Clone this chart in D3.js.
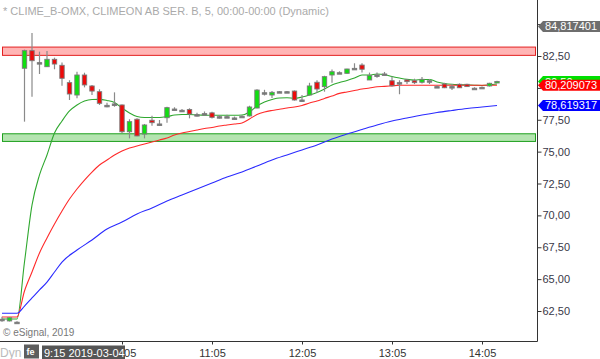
<!DOCTYPE html>
<html>
<head>
<meta charset="utf-8">
<script src="https://cdn.jsdelivr.net/npm/d3@7"></script>
<style>
  body { margin: 0; background: #fff; }
  svg { display: block; font-family: Arial, "Liberation Sans", sans-serif; }
</style>
</head>
<body>
<svg width="600" height="359"></svg>
<script>
// candle times (5 min), last 3 from previous session
var times = ["17:15","17:20","17:25",
  "09:00","09:05","09:10","09:15","09:20","09:25","09:30","09:35","09:40","09:45","09:50","09:55",
  "10:00","10:05","10:10","10:15","10:20","10:25","10:30","10:35","10:40","10:45","10:50","10:55",
  "11:00","11:05","11:10","11:15","11:20","11:25","11:30","11:35","11:40","11:45","11:50","11:55",
  "12:00","12:05","12:10","12:15","12:20","12:25","12:30","12:35","12:40","12:45","12:50","12:55",
  "13:00","13:05","13:10","13:15","13:20","13:25","13:30","13:35","13:40","13:45","13:50","13:55",
  "14:00","14:05","14:10","14:15"];

var open = [61.85,61.72,61.62,
  81.54,82.92,81.98,81.66,82.24,81.77,80.41,79.44,81.01,80.15,79.70,78.63,
  78.74,78.66,76.56,77.54,76.38,77.46,77.17,77.66,78.34,78.24,78.30,77.90,
  77.98,78.04,77.74,77.74,77.64,77.77,77.80,78.42,79.62,79.44,79.70,79.70,
  79.75,79.05,79.44,80.44,80.10,81.01,81.19,81.14,81.53,81.79,80.62,81.01,
  81.09,80.56,80.41,80.62,80.56,80.44,80.56,80.10,80.30,80.10,80.28,80.28,
  79.97,80.04,80.15,80.44];
var high = [62.05,62.00,61.70,
  83.00,84.30,82.84,82.90,82.37,82.00,80.60,81.27,81.19,80.23,79.89,78.84,
  79.65,78.70,77.54,77.61,77.17,77.82,77.48,78.52,78.48,78.34,78.40,78.05,
  78.15,78.13,77.87,77.90,77.75,77.85,78.60,79.90,79.85,79.75,79.75,79.75,
  79.80,79.45,80.40,80.60,80.95,81.45,81.30,81.50,81.93,81.93,81.20,81.20,
  81.25,80.90,80.60,80.70,80.72,80.85,80.70,80.20,80.40,80.30,80.35,80.33,
  80.05,80.10,80.40,80.55];
var low = [61.65,61.68,61.55,
  77.35,79.31,81.09,81.64,81.46,80.17,79.05,79.18,80.04,79.44,78.66,78.48,
  78.52,76.46,76.04,76.20,76.04,77.03,77.01,77.27,78.24,78.10,77.61,77.75,
  77.85,77.60,77.60,77.65,77.50,77.72,77.75,78.40,79.40,79.20,79.65,79.65,
  79.00,78.90,79.40,79.60,79.70,80.40,81.10,81.10,81.50,81.20,80.62,80.80,
  80.98,80.10,79.50,80.30,80.30,80.35,80.30,80.05,79.98,79.83,80.00,80.10,
  79.95,79.98,80.10,80.38];
var close = [61.85,61.97,61.62,
  82.92,82.13,81.98,82.24,81.87,80.75,79.52,81.01,80.23,79.75,78.79,78.63,
  78.74,76.56,77.35,76.23,77.09,77.27,77.17,78.45,78.34,78.24,77.95,77.90,
  77.98,77.69,77.74,77.74,77.64,77.77,78.50,79.83,79.62,79.65,79.70,79.70,
  79.05,79.05,80.15,79.91,80.88,81.27,81.19,81.48,81.53,81.46,80.96,81.01,
  81.09,80.17,80.41,80.49,80.41,80.67,80.56,80.10,80.01,80.10,80.01,80.10,
  79.97,80.04,80.36,80.50];

// moving averages
var fastMA = [61.87,61.87,61.87,
  66.34,70.81,73.17,74.74,76.46,77.40,78.19,78.66,78.97,79.09,79.10,79.01,
  78.85,78.42,78.03,77.75,77.68,77.68,77.68,77.75,77.87,77.91,77.91,77.87,
  77.86,77.85,77.85,77.85,77.85,77.87,78.11,78.58,78.89,79.09,79.21,79.22,
  79.18,79.28,79.44,79.64,79.91,80.23,80.42,80.58,80.77,81.01,81.01,81.09,
  81.05,80.89,80.77,80.67,80.62,80.66,80.66,80.46,80.34,80.28,80.25,80.23,
  80.21,80.19,80.23,80.30];
var midMA = [62.03,62.03,62.03,
  64.07,65.56,67.05,68.23,69.32,70.34,71.28,72.07,72.77,73.40,73.95,74.34,
  74.74,75.05,75.28,75.44,75.60,75.75,75.91,76.07,76.30,76.46,76.58,76.70,
  76.81,76.89,77.01,77.09,77.17,77.25,77.56,77.91,78.11,78.23,78.32,78.42,
  78.50,78.62,78.81,78.97,79.17,79.36,79.57,79.68,79.79,79.91,79.99,80.09,
  80.12,80.16,80.20,80.21,80.21,80.21,80.21,80.21,80.21,80.21,80.21,80.21,
  80.21,80.21,80.21,80.209073];
var slowTimes = ["17:15","17:25","09:00","09:05","09:10","09:15","09:20","09:25","09:35","09:45",
  "09:55","10:05","10:15","10:25","10:35","10:45","10:55","11:05","11:15","11:25","11:35",
  "11:45","11:55","12:05","12:15","12:25","12:35","12:45","12:55","13:05","13:15","13:25",
  "13:35","13:45","13:55","14:05","14:15"];
var slowMA = [62.32,62.32,62.89,63.52,64.15,64.77,65.56,66.34,67.28,68.07,
  68.93,69.48,70.11,70.58,71.13,71.60,72.07,72.54,73.01,73.40,73.87,
  74.34,74.74,75.13,75.52,75.99,76.38,76.74,77.09,77.40,77.64,77.87,
  78.07,78.23,78.38,78.50,78.619317];

var yTicks = [62.5, 65, 67.5, 70, 72.5, 75, 77.5, 80, 82.5, 85];
var hiddenTicks = [80, 85]; // covered by price tags in the original
var xTicks = ["10:05", "11:05", "12:05", "13:05", "14:05"];
var resistBand = [82.55, 83.2];
var supportBand = [75.8, 76.4];
var markPrice = 84.817401;

var svg = d3.select("svg");
var plotW = 537, plotH = 341;

var x = d3.scalePoint().domain(times).range([2, 497]);
var y = d3.scaleLinear().domain([62.5, 82.5]).range([311, 56]);

var loc = d3.formatLocale({decimal: ",", thousands: ".", grouping: [3], currency: ["", ""]});
var f2 = loc.format(".2f"), f6 = loc.format(".6f");

svg.append("defs").append("clipPath").attr("id", "plotclip")
  .append("rect").attr("x", 0).attr("y", 0).attr("width", plotW).attr("height", plotH);

//title and watermark
svg.append("text").attr("x", 3).attr("y", 15)
  .style("font-size", "11px").style("fill", "#aaa")
  .text("* CLIME_B-OMX, CLIMEON AB SER. B, 5, 00:00-00:00 (Dynamic)");
svg.append("text").attr("x", 3).attr("y", 336)
  .style("font-size", "10px").style("fill", "#777")
  .text("\u00a9 eSignal, 2019");

var g = svg.append("g").attr("clip-path", "url(#plotclip)");

// horizontal zones
function band(r, fill, stroke) {
  g.append("rect")
    .attr("x", 2.5).attr("width", 533)
    .attr("y", y(r[1])).attr("height", y(r[0]) - y(r[1]))
    .attr("fill", fill).attr("stroke", stroke).attr("stroke-width", 1);
}
band(resistBand, "#ffb4b4", "#e32020");
band(supportBand, "#b4e4b0", "#1ea01e");

// moving average lines
var line = d3.line()
  .x(function(d) { return x(d[0]); })
  .y(function(d) { return y(d[1]); })
  .curve(d3.curveMonotoneX);

function maLine(ts, vals, color) {
  g.append("path")
    .datum(ts.map(function(t, i) { return [t, vals[i]]; }))
    .attr("fill", "none").attr("stroke", color).attr("stroke-width", 1.1)
    .attr("d", line);
}
maLine(times, fastMA, "#2fa82f");
maLine(times, midMA, "#ff2a2a");
maLine(slowTimes, slowMA, "#2a2aff");

// candles
var candles = times.map(function(t, i) {
  return {t: t, o: open[i], h: high[i], l: low[i], c: close[i]};
});

var cg = g.append("g").selectAll("g").data(candles).enter().append("g");

cg.append("line")
  .attr("x1", function(d) { return x(d.t); })
  .attr("x2", function(d) { return x(d.t); })
  .attr("y1", function(d) { return y(d.h); })
  .attr("y2", function(d) { return y(d.l); })
  .attr("stroke", "#8a8a8a").attr("stroke-width", 1.2);

cg.append("rect")
  .attr("x", function(d) { return x(d.t) - 2.2; })
  .attr("width", 4.4)
  .attr("y", function(d) { return y(Math.max(d.o, d.c)); })
  .attr("height", function(d) { return Math.max(1.5, Math.abs(y(d.o) - y(d.c))); })
  .attr("fill", function(d) {
    if (d.c > d.o) return "#10e010";
    else if (d.c < d.o) return "#ee0a0a";
    else return "#777";
  })
  .attr("stroke", "#7a7a7a").attr("stroke-width", 0.9);

// axes
var axisCol = "#333";
svg.append("line").attr("x1", plotW + 0.5).attr("x2", plotW + 0.5)
  .attr("y1", 0).attr("y2", plotH + 0.5).attr("stroke", axisCol);
svg.append("line").attr("x1", 0).attr("x2", plotW + 0.5)
  .attr("y1", plotH + 0.5).attr("y2", plotH + 0.5).attr("stroke", axisCol);

var yAxis = svg.append("g")
  .attr("transform", "translate(" + (plotW + 0.5) + ",0)")
  .call(d3.axisRight(y).tickValues(yTicks).tickSize(4).tickPadding(1)
    .tickFormat(function(d) { return hiddenTicks.indexOf(d) >= 0 ? "" : f2(d); }));
yAxis.select(".domain").remove();
yAxis.selectAll("line").attr("stroke", axisCol);
yAxis.selectAll("text").style("font-size", "11px").style("fill", "#383848")
  .style("font-family", "Arial, 'Liberation Sans', sans-serif");

var xAxis = svg.append("g")
  .attr("transform", "translate(0," + (plotH + 0.5) + ")")
  .call(d3.axisBottom(x).tickValues(xTicks).tickSize(3).tickPadding(5));
xAxis.select(".domain").remove();
xAxis.selectAll("line").attr("stroke", axisCol);
xAxis.selectAll("text").style("font-size", "11px").style("fill", "#333")
  .style("font-family", "Arial, 'Liberation Sans', sans-serif");

// right side price tags
function tag(v, fill, txt) {
  var cy = y(v);
  svg.append("path")
    .attr("d", "M538," + cy + " L543," + (cy - 5.5) + " L600," + (cy - 5.5) +
      " L600," + (cy + 5.5) + " L543," + (cy + 5.5) + " Z")
    .attr("fill", fill);
  svg.append("text").attr("x", 545).attr("y", cy + 4)
    .style("font-size", "11px").style("fill", "#fff").text(txt);
}
tag(markPrice, "#6e6e6e", f6(markPrice));
tag(close[close.length - 1], "#00e000", f2(close[close.length - 1]));
tag(midMA[midMA.length - 1], "#ff0000", f6(midMA[midMA.length - 1]));
tag(slowMA[slowMA.length - 1], "#0000ff", f6(slowMA[slowMA.length - 1]));

// bottom left status bits
svg.append("text").attr("x", 0).attr("y", 357)
  .style("font-size", "12px").style("fill", "#bbb").text("Dyn");
svg.append("rect").attr("x", 24).attr("y", 344.5).attr("width", 15).attr("height", 14)
  .attr("fill", "#5e5e5e");
svg.append("text").attr("x", 26.5).attr("y", 355)
  .style("font-size", "9px").style("font-weight", "bold").style("fill", "#fff").text("fe");
svg.append("rect").attr("x", 42).attr("y", 345.5).attr("width", 83).attr("height", 13.5)
  .attr("fill", "#555");
svg.append("text").attr("x", 44).attr("y", 356.5)
  .style("font-size", "11px").style("fill", "#fff").text("9:15 2019-03-04");
</script>
</body>
</html>
